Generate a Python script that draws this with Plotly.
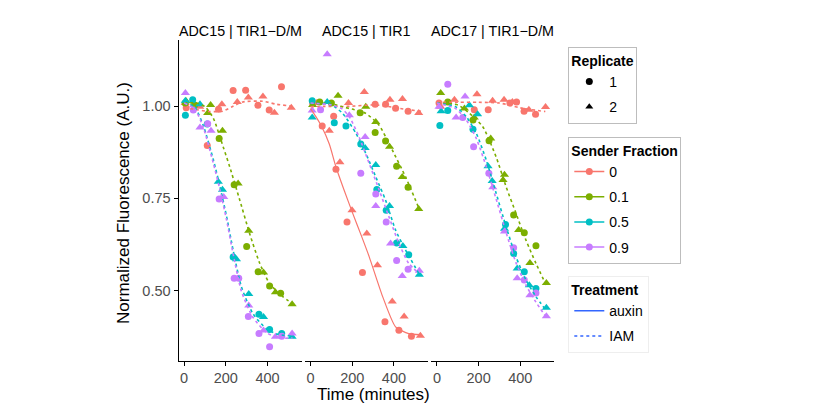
import plotly.graph_objects as go

# ---------------- data (time in minutes, normalized fluorescence) ----------------
panels = ["ADC15 | TIR1\u2212D/M", "ADC15 | TIR1", "ADC17 | TIR1\u2212D/M"]
fractions = ["0", "0.1", "0.5", "0.9"]
colors = ["#F8766D", "#7CAE00", "#00BFC4", "#C77CFF"]
x_ticks = [0, 200, 400]
y_ticks = [0.50, 0.75, 1.00]

# Panel A: ADC15 | TIR1-D/M  (IAM)
a_f0_r1_t = [10, 111, 165, 235, 295, 354, 408, 467]
a_f0_r1_v = [0.995, 0.893, 0.991, 1.042, 1.043, 1.002, 0.989, 1.052]
a_f0_r2_t = [5, 75, 181, 255, 308, 378, 433, 514]
a_f0_r2_v = [1.008, 0.998, 1.005, 1.011, 1.023, 1.026, 0.982, 0.995]
a_f0_fit_t = [0, 60, 121, 185, 230, 281, 377, 441, 521]
a_f0_fit_v = [0.996, 0.990, 0.985, 0.986, 0.998, 1.011, 1.013, 1.005, 0.999]

a_f1_r1_t = [5, 50, 168, 240, 300, 355, 410, 463]
a_f1_r1_v = [1.008, 1.003, 0.912, 0.787, 0.620, 0.551, 0.513, 0.493]
a_f1_r2_t = [10, 113, 127, 184, 259, 310, 381, 438, 518]
a_f1_r2_v = [1.013, 0.981, 1.003, 0.933, 0.790, 0.662, 0.549, 0.496, 0.463]
a_f1_fit_t = [0, 60, 100, 140, 187, 219, 267, 314, 362, 410, 473, 520]
a_f1_fit_v = [1.008, 1.008, 0.998, 0.967, 0.890, 0.835, 0.745, 0.655, 0.575, 0.519, 0.484, 0.465]

a_f5_r1_t = [6, 41, 111, 235, 359, 410, 468]
a_f5_r1_v = [0.975, 1.017, 0.951, 0.591, 0.436, 0.395, 0.384]
a_f5_r2_t = [6, 76, 164, 184, 251, 310, 381, 518]
a_f5_r2_v = [1.014, 1.005, 0.795, 0.773, 0.585, 0.491, 0.429, 0.375]
a_f5_fit_t = [0, 50, 92, 140, 171, 203, 235, 275, 330, 394, 450, 520]
a_f5_fit_v = [1.008, 0.998, 0.947, 0.855, 0.784, 0.703, 0.610, 0.510, 0.438, 0.397, 0.382, 0.377]

a_f9_r1_t = [44, 113, 168, 240, 262, 308, 359, 410, 468]
a_f9_r1_v = [0.989, 0.952, 0.748, 0.534, 0.534, 0.430, 0.384, 0.348, 0.377]
a_f9_r2_t = [6, 76, 129, 190, 310, 381, 438, 518]
a_f9_r2_v = [1.035, 0.942, 0.933, 0.754, 0.460, 0.392, 0.375, 0.384]
a_f9_fit_t = [0, 50, 92, 140, 171, 203, 235, 275, 330, 394, 450, 520]
a_f9_fit_v = [1.008, 0.993, 0.942, 0.845, 0.775, 0.693, 0.600, 0.498, 0.428, 0.387, 0.372, 0.372]

# Panel B: ADC15 | TIR1
b_f0aux_r1_t = [56, 122, 175, 249, 357, 424, 484]
b_f0aux_r1_v = [0.946, 0.829, 0.686, 0.549, 0.416, 0.393, 0.377]
b_f0aux_r2_t = [90, 141, 199, 270, 321, 392, 449, 527]
b_f0aux_r2_v = [0.933, 0.848, 0.718, 0.655, 0.569, 0.471, 0.430, 0.378]
b_f0aux_fit_t = [0, 25, 51, 90, 122, 160, 202, 245, 282, 346, 408, 471, 527]
b_f0aux_fit_v = [0.993, 0.972, 0.947, 0.897, 0.835, 0.774, 0.710, 0.647, 0.591, 0.484, 0.402, 0.384, 0.381]

b_f0_r1_t = [10, 111, 310, 360, 408, 468]
b_f0_r1_v = [1.008, 0.972, 1.005, 1.005, 0.994, 0.986]
b_f0_r2_t = [30, 182, 258, 381, 441, 519]
b_f0_r2_v = [1.008, 1.008, 1.038, 1.017, 1.019, 0.981]
b_f0_fit_t = [0, 63, 182, 310, 468, 530]
b_f0_fit_v = [0.998, 0.999, 0.999, 1.003, 0.990, 0.986]

b_f1_r1_t = [44, 100, 238, 310, 360, 413, 468]
b_f1_r1_v = [1.011, 1.008, 0.982, 0.928, 0.905, 0.837, 0.780]
b_f1_r2_t = [10, 132, 265, 313, 379, 440, 519]
b_f1_r2_v = [1.003, 1.028, 0.998, 0.957, 0.890, 0.808, 0.721]
b_f1_fit_t = [0, 100, 152, 210, 265, 329, 392, 456, 520]
b_f1_fit_v = [1.008, 1.006, 0.998, 0.990, 0.980, 0.948, 0.881, 0.808, 0.723]

b_f5_r1_t = [8, 114, 170, 241, 318, 363, 413, 471]
b_f5_r1_v = [1.014, 0.955, 0.946, 0.897, 0.774, 0.718, 0.629, 0.597]
b_f5_r2_t = [8, 80, 262, 313, 379, 443, 522]
b_f5_r2_v = [0.969, 1.011, 0.886, 0.840, 0.729, 0.621, 0.543]
b_f5_fit_t = [0, 100, 154, 218, 265, 313, 360, 408, 456, 519]
b_f5_fit_v = [1.008, 1.003, 0.980, 0.926, 0.872, 0.808, 0.745, 0.664, 0.610, 0.547]

b_f9_r1_t = [48, 241, 313, 363, 413, 468]
b_f9_r1_v = [0.990, 0.818, 0.762, 0.686, 0.582, 0.558]
b_f9_r2_t = [8, 80, 186, 262, 313, 384, 440, 522]
b_f9_r2_v = [0.988, 1.140, 0.975, 0.916, 0.729, 0.628, 0.540, 0.554]
b_f9_fit_t = [0, 100, 150, 186, 233, 281, 329, 376, 424, 471, 519]
b_f9_fit_v = [1.008, 1.003, 0.993, 0.971, 0.916, 0.845, 0.773, 0.700, 0.628, 0.574, 0.547]

# Panel C: ADC17 | TIR1-D/M  (IAM)
c_f0_r1_t = [10, 179, 246, 350, 382, 418, 473]
c_f0_r1_v = [1.008, 0.990, 0.990, 1.008, 1.011, 0.986, 0.978]
c_f0_r2_t = [18, 84, 192, 267, 322, 362, 441, 521]
c_f0_r2_v = [0.998, 1.017, 1.032, 1.014, 1.017, 1.011, 0.990, 0.997]
c_f0_fit_t = [0, 100, 200, 300, 400, 520]
c_f0_fit_v = [1.010, 1.010, 1.010, 1.008, 0.995, 0.985]

c_f1_r1_t = [52, 173, 250, 368, 419, 475]
c_f1_r1_v = [1.011, 0.962, 0.906, 0.705, 0.657, 0.622]
c_f1_r2_t = [18, 132, 179, 258, 317, 324, 392, 446, 525]
c_f1_r2_v = [1.035, 0.993, 0.969, 0.912, 0.800, 0.814, 0.664, 0.575, 0.521]
c_f1_fit_t = [0, 100, 157, 220, 284, 332, 379, 427, 475, 525]
c_f1_fit_v = [1.008, 1.003, 0.980, 0.944, 0.862, 0.781, 0.710, 0.637, 0.574, 0.514]

c_f5_r1_t = [14, 52, 173, 329, 368, 419, 475]
c_f5_r1_v = [0.947, 0.988, 0.937, 0.679, 0.601, 0.551, 0.506]
c_f5_r2_t = [20, 156, 195, 245, 265, 324, 385, 443, 525]
c_f5_r2_v = [0.986, 1.002, 0.978, 0.837, 0.797, 0.668, 0.560, 0.515, 0.454]
c_f5_fit_t = [0, 90, 141, 189, 237, 284, 332, 379, 427, 475, 522]
c_f5_fit_v = [1.008, 0.998, 0.971, 0.926, 0.853, 0.764, 0.673, 0.592, 0.529, 0.484, 0.448]

c_f9_r1_t = [52, 124, 176, 249, 368, 419, 475]
c_f9_r1_v = [1.059, 0.969, 0.890, 0.818, 0.616, 0.529, 0.494]
c_f9_r2_t = [10, 92, 135, 268, 324, 385, 446, 525]
c_f9_r2_v = [0.998, 0.969, 1.026, 0.780, 0.660, 0.534, 0.488, 0.431]
c_f9_fit_t = [0, 90, 141, 189, 237, 284, 332, 379, 427, 475, 522]
c_f9_fit_v = [1.008, 0.993, 0.962, 0.912, 0.835, 0.748, 0.657, 0.576, 0.515, 0.469, 0.430]

# series table built from the arrays above: (panel index, fraction index, treatment, r1, r2, fit)
series = [
    (0, 0, "IAM", (a_f0_r1_t, a_f0_r1_v), (a_f0_r2_t, a_f0_r2_v), (a_f0_fit_t, a_f0_fit_v)),
    (0, 1, "IAM", (a_f1_r1_t, a_f1_r1_v), (a_f1_r2_t, a_f1_r2_v), (a_f1_fit_t, a_f1_fit_v)),
    (0, 2, "IAM", (a_f5_r1_t, a_f5_r1_v), (a_f5_r2_t, a_f5_r2_v), (a_f5_fit_t, a_f5_fit_v)),
    (0, 3, "IAM", (a_f9_r1_t, a_f9_r1_v), (a_f9_r2_t, a_f9_r2_v), (a_f9_fit_t, a_f9_fit_v)),
    (1, 0, "IAM", (b_f0_r1_t, b_f0_r1_v), (b_f0_r2_t, b_f0_r2_v), (b_f0_fit_t, b_f0_fit_v)),
    (1, 0, "auxin", (b_f0aux_r1_t, b_f0aux_r1_v), (b_f0aux_r2_t, b_f0aux_r2_v), (b_f0aux_fit_t, b_f0aux_fit_v)),
    (1, 1, "IAM", (b_f1_r1_t, b_f1_r1_v), (b_f1_r2_t, b_f1_r2_v), (b_f1_fit_t, b_f1_fit_v)),
    (1, 2, "IAM", (b_f5_r1_t, b_f5_r1_v), (b_f5_r2_t, b_f5_r2_v), (b_f5_fit_t, b_f5_fit_v)),
    (1, 3, "IAM", (b_f9_r1_t, b_f9_r1_v), (b_f9_r2_t, b_f9_r2_v), (b_f9_fit_t, b_f9_fit_v)),
    (2, 0, "IAM", (c_f0_r1_t, c_f0_r1_v), (c_f0_r2_t, c_f0_r2_v), (c_f0_fit_t, c_f0_fit_v)),
    (2, 1, "IAM", (c_f1_r1_t, c_f1_r1_v), (c_f1_r2_t, c_f1_r2_v), (c_f1_fit_t, c_f1_fit_v)),
    (2, 2, "IAM", (c_f5_r1_t, c_f5_r1_v), (c_f5_r2_t, c_f5_r2_v), (c_f5_fit_t, c_f5_fit_v)),
    (2, 3, "IAM", (c_f9_r1_t, c_f9_r1_v), (c_f9_r2_t, c_f9_r2_v), (c_f9_fit_t, c_f9_fit_v)),
]

# ---------------- figure ----------------
W, H = 840, 416
FONT = "Liberation Sans, Arial, sans-serif"
DOT = "3px,3px"
fig = go.Figure()

axis_names = [("x", "y"), ("x2", "y2"), ("x3", "y3")]

# points first
for p, f, trt, r1, r2, fit in series:
    xa, ya = axis_names[p]
    for (tt, vv), sym, sz in ((r1, "circle", 7), (r2, "triangle-up", 8)):
        fig.add_trace(go.Scatter(x=tt, y=vv, mode="markers", xaxis=xa, yaxis=ya,
                                 marker=dict(symbol=sym, size=sz, color=colors[f], line=dict(width=0)),
                                 showlegend=False, hoverinfo="skip"))
# fitted curves on top
for p, f, trt, r1, r2, fit in series:
    xa, ya = axis_names[p]
    fig.add_trace(go.Scatter(x=fit[0], y=fit[1], mode="lines", xaxis=xa, yaxis=ya,
                             line=dict(color=colors[f], width=1.6 if trt == "IAM" else 1.2,
                                       dash=DOT if trt == "IAM" else "solid", shape="spline", smoothing=0.6),
                             showlegend=False, hoverinfo="skip"))

# legend entries (each its own group so the group gap spaces the rows)
for name, sym in (("1", "circle"), ("2", "triangle-up")):
    fig.add_trace(go.Scatter(x=[None], y=[None], mode="markers", name=name, legend="legend",
                             legendgroup="rep" + name,
                             marker=dict(symbol=sym, size=7, color="black")))
for name, c in zip(fractions, colors):
    fig.add_trace(go.Scatter(x=[None], y=[None], mode="lines+markers", name=name, legend="legend2",
                             legendgroup="sf" + name,
                             line=dict(color=c, width=1.5), marker=dict(symbol="circle", size=7, color=c)))
for name, d in (("auxin", "solid"), ("IAM", DOT)):
    fig.add_trace(go.Scatter(x=[None], y=[None], mode="lines", name=name, legend="legend3",
                             legendgroup="tr" + name,
                             line=dict(color="#3366FF", width=1.5, dash=d)))

# geometry (pixels -> paper)
px = lambda v: v / W
py = lambda v: 1 - v / H
xdoms = [(178.5, 301.5), (304.9, 427.9), (431.3, 554.3)]
ydom = [py(360.7), py(40)]

tickfont = dict(family=FONT, size=14.5, color="#4d4d4d")
for i, (a, b) in enumerate(xdoms):
    sfx = "" if i == 0 else str(i + 1)
    fig.layout["xaxis" + sfx] = dict(domain=[px(a), px(b)], range=[-27, 563], anchor="y" + sfx,
                                     tickvals=x_ticks, ticks="outside", ticklen=4, tickwidth=1,
                                     tickcolor="black", showline=True, linecolor="black", linewidth=1,
                                     showgrid=False, zeroline=False, tickfont=tickfont)
    fig.layout["yaxis" + sfx] = dict(domain=ydom, range=[0.3105, 1.1787], anchor="x" + sfx,
                                     tickvals=y_ticks, tickformat=".2f", ticks="outside" if i == 0 else "",
                                     ticklen=4, tickwidth=1, tickcolor="black",
                                     showline=(i == 0), linecolor="black", linewidth=1,
                                     showticklabels=(i == 0), showgrid=False, zeroline=False,
                                     tickfont=tickfont)
    fig.add_annotation(text=panels[i], x=px((a + b) / 2), y=py(31), xref="paper", yref="paper",
                       showarrow=False, xanchor="center", yanchor="middle",
                       font=dict(family=FONT, size=14.3, color="black"))

fig.add_annotation(text="Time (minutes)", x=px(373), y=py(394), xref="paper", yref="paper",
                   showarrow=False, xanchor="center", yanchor="middle",
                   font=dict(family=FONT, size=17, color="black"))
fig.add_annotation(text="Normalized Fluorescence (A.U.)", x=px(124), y=py(203), xref="paper", yref="paper",
                   showarrow=False, xanchor="center", yanchor="middle", textangle=-90,
                   font=dict(family=FONT, size=17, color="black"))

leg_common = dict(xanchor="left", yanchor="top", bgcolor="white", borderwidth=1,
                  font=dict(family=FONT, size=14, color="black"), tracegroupgap=4, itemwidth=30)
fig.update_layout(
    width=W, height=H, margin=dict(l=0, r=0, t=0, b=0),
    paper_bgcolor="white", plot_bgcolor="white",
    font=dict(family=FONT),
    legend=dict(title=dict(text="<b>Replicate</b>", font=dict(family=FONT, size=14)),
                x=px(568.3), y=py(46.7), bordercolor="#bdbdbd", **leg_common),
    legend2=dict(title=dict(text="<b>Sender Fraction</b>", font=dict(family=FONT, size=14)),
                 x=px(568.3), y=py(136.7), bordercolor="#bdbdbd", **leg_common),
    legend3=dict(title=dict(text="<b>Treatment</b>", font=dict(family=FONT, size=14)),
                 x=px(568.3), y=py(276), bordercolor="#eeeeee", **leg_common),
)

fig.write_html("out.html", config={"displayModeBar": False},
               post_script="document.body.style.margin='0px';document.body.style.padding='0px';")
